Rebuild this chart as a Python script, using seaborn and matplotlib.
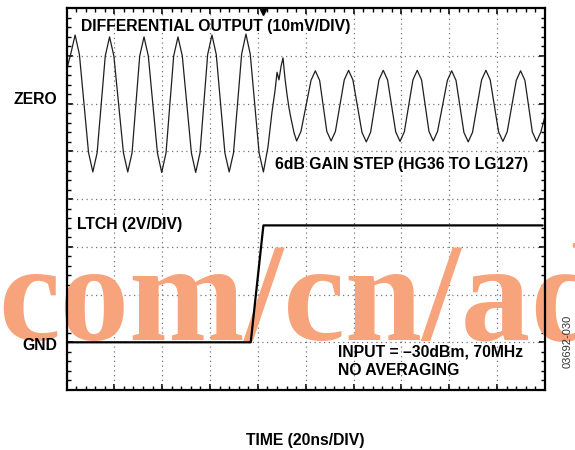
import numpy as np
import pandas as pd
import matplotlib
matplotlib.use("Agg")
import matplotlib.pyplot as plt
import seaborn as sns
from matplotlib.ticker import MultipleLocator

# scope screen: 10 x 8 divisions, 20ns/DIV horizontally
# differential output trace (10mV/DIV): time in ns, level in mV
diff_t = [0.0, 1.8, 3.6, 5.4, 9.2, 11.0, 12.8, 16.2, 18.0, 19.8, 23.8, 25.6, 27.4,
          30.6, 32.4, 34.2, 38.0, 39.8, 41.6, 44.8, 46.6, 48.4, 52.2, 54.0, 55.8,
          59.0, 60.8, 62.6, 66.2, 68.0, 69.8, 73.2, 75.0, 76.8, 80.5, 82.3,
          84.2, 85.9, 87.2, 88.0, 88.8, 89.7, 90.5, 91.3, 92.2, 93.0, 93.8, 95.1, 96.2, 98.0,
          102.2, 104.0, 105.8, 108.8, 110.6, 112.4, 116.1, 117.9, 119.7, 123.5, 125.3, 127.1,
          130.6, 132.4, 134.2, 137.6, 139.4, 141.2, 144.8, 146.6, 148.4, 151.5, 153.3, 155.1,
          159.2, 161.0, 162.8, 166.1, 167.9, 169.7, 173.5, 175.3, 177.1, 180.6, 182.4, 184.2,
          188.0, 189.8, 191.6, 194.7, 196.5, 198.3, 200.0]
diff_mv = [7.0, 10.5, 14.4, 10.3, -10.2, -14.3, -10.3, 10.0, 14.0, 10.0, -10.3, -14.3, -10.3,
           10.0, 14.0, 10.0, -10.3, -14.4, -10.3, 10.0, 14.0, 10.0, -10.3, -14.4, -10.3,
           10.3, 14.4, 10.3, -10.3, -14.3, -10.3, 10.4, 14.6, 10.4, -10.3, -14.3,
           -9.1, -1.7, 2.9, 6.6, 5.0, 7.9, 9.6, 5.4, 1.8, -0.9, -3.0, -6.1, -7.8, -5.8,
           4.9, 6.9, 4.9, -5.8, -7.8, -5.8, 5.0, 7.0, 5.0, -6.0, -8.0, -6.0,
           5.0, 7.0, 5.0, -5.9, -7.9, -5.9, 5.0, 7.0, 5.0, -5.8, -7.8, -5.8,
           4.9, 6.9, 4.9, -6.0, -8.0, -6.0, 5.0, 7.0, 5.0, -5.9, -7.9, -5.9,
           4.9, 6.9, 4.9, -5.9, -7.9, -5.9, -2.6]

# LTCH trace (2V/DIV), volts above GND
ltch_t = [0.0, 77.0, 82.3, 199.0]
ltch_v = [0.0, 0.0, 4.9, 4.9]

zero_div = 6   # ZERO reference line, divisions from the bottom
gnd_div = 1    # GND reference line

sns.set_style("white")
plt.rcParams['font.family'] = ['Liberation Sans', 'DejaVu Sans']
plt.rcParams['text.color'] = 'black'

W, H = 575, 450
fig = plt.figure(figsize=(W / 100, H / 100), dpi=100)
ax = fig.add_axes([66.5 / W, 60 / H, 478.5 / W, 381.7 / H])

df_diff = pd.DataFrame({'t': diff_t, 'y': zero_div + np.array(diff_mv) / 10.0})
df_ltch = pd.DataFrame({'t': ltch_t, 'y': gnd_div + np.array(ltch_v) / 2.0})

sns.lineplot(data=df_diff, x='t', y='y', sort=False, estimator=None, color='#1e1e1e',
             lw=0.9, ax=ax, zorder=4)
sns.lineplot(data=df_ltch, x='t', y='y', sort=False, estimator=None, color='black',
             lw=1.6, ax=ax, zorder=4)

ax.set_xlim(0, 200)
ax.set_ylim(0, 8)
ax.set_xlabel('')
ax.set_ylabel('')

# dotted graticule
for gx in range(20, 200, 20):
    ax.axvline(gx, color='#777777', lw=0.9, ls=(0, (1, 2.8)), zorder=1)
for gy in range(1, 8):
    ax.axhline(gy, color='#777777', lw=0.9, ls=(0, (1, 2.8)), zorder=1)

ax.xaxis.set_major_locator(MultipleLocator(20))
ax.xaxis.set_minor_locator(MultipleLocator(4))
ax.yaxis.set_major_locator(MultipleLocator(1))
ax.yaxis.set_minor_locator(MultipleLocator(0.2))
ax.tick_params(which='both', direction='in', top=True, right=True, bottom=True, left=True,
               labelbottom=False, labelleft=False, colors='black')
ax.tick_params(which='major', length=4.5, width=1.2)
ax.tick_params(which='minor', length=2.6, width=1.0)
for sp in ax.spines.values():
    sp.set_linewidth(1.6)
    sp.set_color('black')
    sp.set_zorder(5)

# trigger marker on the top edge
ax.plot([82.3], [7.93], marker='v', color='black', ms=5, clip_on=False, zorder=6)


def fx(x):
    return x / W


def fy(y):
    return 1 - y / H


fs = 11.3
fig.text(fx(81), fy(26), 'DIFFERENTIAL OUTPUT (10mV/DIV)', fontsize=fs, fontweight='bold',
         va='center', ha='left')
fig.text(fx(57), fy(100), 'ZERO', fontsize=fs, fontweight='bold', va='center', ha='right')
fig.text(fx(275), fy(164), '6dB GAIN STEP (HG36 TO LG127)', fontsize=fs, fontweight='bold',
         va='center', ha='left')
fig.text(fx(77), fy(224), 'LTCH (2V/DIV)', fontsize=fs, fontweight='bold', va='center', ha='left')
fig.text(fx(57), fy(345), 'GND', fontsize=fs, fontweight='bold', va='center', ha='right')
fig.text(fx(337.5), fy(351.7), 'INPUT = \u201330dBm, 70MHz', fontsize=fs, fontweight='bold',
         va='center', ha='left')
fig.text(fx(337.5), fy(370.7), 'NO AVERAGING', fontsize=fs, fontweight='bold',
         va='center', ha='left')
fig.text(fx(305), fy(440), 'TIME (20ns/DIV)', fontsize=fs, fontweight='bold',
         va='center', ha='center')
fig.text(fx(568), fy(341), '03692-030', fontsize=8, color='#333333', rotation=90,
         va='center', ha='center')

# orange watermark across the lower half
ax.text(fx(-2), fy(340), 'com/cn/ad', transform=fig.transFigure, fontsize=100,
        fontfamily='Liberation Serif', fontweight='bold', color='#f7a47c',
        va='baseline', ha='left', clip_on=False, zorder=2)

fig.savefig('out.png', dpi=100)
